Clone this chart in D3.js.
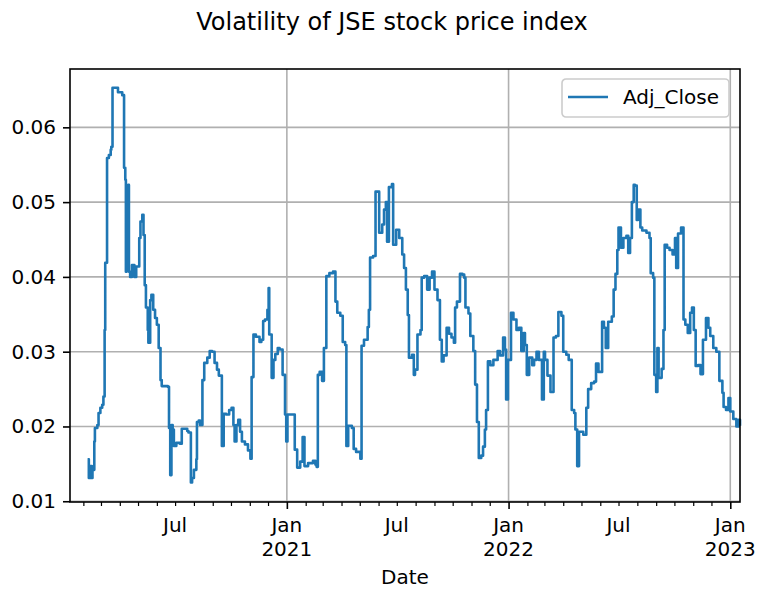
<!DOCTYPE html>
<html>
<head>
<meta charset="utf-8">
<script src="https://cdn.jsdelivr.net/npm/d3@7"></script>
<style>
  body { margin: 0; background: #fff; }
  svg text { font-family: "DejaVu Sans", sans-serif; fill: #000; }
</style>
</head>
<body>
<svg id="chart" width="758" height="590"></svg>
<script>
// rolling volatility
const dates = [
  '2020-02-08','2020-02-10','2020-02-12','2020-02-15','2020-02-16','2020-02-19','2020-02-20','2020-02-24','2020-02-26','2020-02-29',
  '2020-03-03','2020-03-05','2020-03-07','2020-03-08','2020-03-11','2020-03-14','2020-03-17','2020-03-18','2020-03-20','2020-03-26',
  '2020-03-29','2020-04-05','2020-04-07','2020-04-08','2020-04-10','2020-04-11','2020-04-12','2020-04-15','2020-04-16','2020-04-18',
  '2020-04-21','2020-04-25','2020-04-28','2020-05-03','2020-05-05','2020-05-08','2020-05-10','2020-05-12','2020-05-14','2020-05-17',
  '2020-05-18','2020-05-21','2020-05-23','2020-05-26','2020-05-29','2020-06-01','2020-06-04','2020-06-07','2020-06-09','2020-06-19',
  '2020-06-21','2020-06-23','2020-06-25','2020-06-27','2020-06-29','2020-07-03','2020-07-09','2020-07-12','2020-07-21','2020-07-23',
  '2020-07-27','2020-07-29','2020-08-01','2020-08-05','2020-08-06','2020-08-09','2020-08-11','2020-08-15','2020-08-18','2020-08-23',
  '2020-08-27','2020-08-31','2020-09-04','2020-09-08','2020-09-11','2020-09-15','2020-09-16','2020-09-19','2020-09-23','2020-09-28',
  '2020-10-02','2020-10-05','2020-10-07','2020-10-10','2020-10-13','2020-10-16','2020-10-19','2020-10-24','2020-10-29','2020-11-02',
  '2020-11-04','2020-11-07','2020-11-11','2020-11-17','2020-11-20','2020-11-23','2020-11-26','2020-11-30','2020-12-02','2020-12-03',
  '2020-12-07','2020-12-10','2020-12-13','2020-12-17','2020-12-20','2020-12-25','2020-12-29','2020-12-31','2021-01-02','2021-01-11',
  '2021-01-14','2021-01-18','2021-01-23','2021-01-27','2021-01-30','2021-02-05','2021-02-13','2021-02-17','2021-02-19','2021-02-21',
  '2021-02-24','2021-02-28','2021-03-03','2021-03-07','2021-03-12','2021-03-18','2021-03-22','2021-03-25','2021-03-30','2021-04-03',
  '2021-04-07','2021-04-09','2021-04-12','2021-04-18','2021-04-21','2021-04-25','2021-05-02','2021-05-04','2021-05-08','2021-05-14',
  '2021-05-16','2021-05-18','2021-05-23','2021-05-27','2021-05-31','2021-06-02','2021-06-07','2021-06-10','2021-06-13','2021-06-15',
  '2021-06-18','2021-06-23','2021-06-25','2021-06-30','2021-07-05','2021-07-10','2021-07-13','2021-07-16','2021-07-19','2021-07-21',
  '2021-07-26','2021-07-29','2021-07-31','2021-08-04','2021-08-09','2021-08-11','2021-08-15','2021-08-20','2021-08-24','2021-08-28',
  '2021-09-01','2021-09-06','2021-09-10','2021-09-13','2021-09-16','2021-09-21','2021-09-25','2021-09-29','2021-10-03','2021-10-05',
  '2021-10-08','2021-10-13','2021-10-17','2021-10-20','2021-10-22','2021-10-27','2021-10-30','2021-11-04','2021-11-07','2021-11-10',
  '2021-11-13','2021-11-17','2021-11-20','2021-11-23','2021-11-25','2021-11-28','2021-12-02','2021-12-07','2021-12-11','2021-12-14',
  '2021-12-18','2021-12-23','2021-12-26','2021-12-28','2021-12-31','2022-01-05','2022-01-09','2022-01-14','2022-01-18','2022-01-22',
  '2022-01-26','2022-01-28','2022-01-31','2022-02-04','2022-02-09','2022-02-12','2022-02-16','2022-02-20','2022-02-25','2022-02-28',
  '2022-03-02','2022-03-06','2022-03-11','2022-03-16','2022-03-20','2022-03-24','2022-03-29','2022-04-01','2022-04-06','2022-04-10',
  '2022-04-15','2022-04-19','2022-04-21','2022-04-24','2022-04-27','2022-05-04','2022-05-09','2022-05-12','2022-05-17','2022-05-22',
  '2022-05-25','2022-05-29','2022-06-04','2022-06-07','2022-06-10','2022-06-14','2022-06-20','2022-06-23','2022-06-26','2022-06-29',
  '2022-07-01','2022-07-05','2022-07-09','2022-07-14','2022-07-17','2022-07-20','2022-07-23','2022-07-26','2022-07-28','2022-07-31',
  '2022-08-02','2022-08-06','2022-08-09','2022-08-16','2022-08-21','2022-08-23','2022-08-27','2022-08-29','2022-09-01','2022-09-03',
  '2022-09-05','2022-09-10','2022-09-13','2022-09-15','2022-09-19','2022-09-23','2022-09-28','2022-10-02','2022-10-04','2022-10-07',
  '2022-10-12','2022-10-16','2022-10-19','2022-10-23','2022-10-27','2022-10-30','2022-11-02','2022-11-05','2022-11-09','2022-11-13',
  '2022-11-17','2022-11-22','2022-11-26','2022-11-29','2022-12-04','2022-12-09','2022-12-14','2022-12-19','2022-12-21','2022-12-25',
  '2022-12-29','2023-01-01','2023-01-06','2023-01-11','2023-01-15','2023-01-17'
];
const adjClose = [
  0.0156,0.0131,0.0147,0.0131,0.0142,0.0180,0.0198,0.0202,0.0218,0.0225,
  0.0229,0.0240,0.0329,0.0419,0.0559,0.0563,0.0570,0.0574,0.0653,0.0653,
  0.0647,0.0643,0.0643,0.0546,0.0530,0.0407,0.0450,0.0523,0.0407,0.0400,
  0.0416,0.0400,0.0414,0.0452,0.0474,0.0483,0.0456,0.0389,0.0359,0.0329,
  0.0312,0.0369,0.0376,0.0356,0.0345,0.0336,0.0305,0.0262,0.0254,0.0253,
  0.0198,0.0135,0.0202,0.0196,0.0174,0.0178,0.0177,0.0197,0.0194,0.0192,
  0.0125,0.0131,0.0142,0.0156,0.0206,0.0208,0.0202,0.0262,0.0285,0.0292,
  0.0301,0.0300,0.0285,0.0276,0.0268,0.0268,0.0174,0.0217,0.0216,0.0222,
  0.0225,0.0202,0.0180,0.0202,0.0209,0.0193,0.0180,0.0176,0.0168,0.0157,
  0.0266,0.0323,0.0320,0.0313,0.0316,0.0341,0.0343,0.0356,0.0385,0.0323,
  0.0265,0.0289,0.0297,0.0305,0.0303,0.0269,0.0216,0.0180,0.0216,0.0216,
  0.0169,0.0145,0.0153,0.0186,0.0147,0.0151,0.0154,0.0149,0.0146,0.0269,
  0.0273,0.0261,0.0305,0.0401,0.0405,0.0407,0.0367,0.0352,0.0348,0.0313,
  0.0309,0.0174,0.0201,0.0198,0.0170,0.0166,0.0157,0.0308,0.0316,0.0333,
  0.0356,0.0426,0.0428,0.0514,0.0514,0.0459,0.0470,0.0490,0.0500,0.0447,
  0.0520,0.0524,0.0443,0.0463,0.0452,0.0430,0.0412,0.0383,0.0349,0.0292,
  0.0296,0.0269,0.0276,0.0323,0.0329,0.0399,0.0401,0.0383,0.0399,0.0407,
  0.0383,0.0369,0.0316,0.0287,0.0295,0.0332,0.0324,0.0319,0.0312,0.0359,
  0.0367,0.0404,0.0403,0.0399,0.0359,0.0351,0.0321,0.0301,0.0256,0.0206,
  0.0158,0.0161,0.0173,0.0196,0.0222,0.0287,0.0282,0.0289,0.0289,0.0301,
  0.0295,0.0319,0.0303,0.0236,0.0289,0.0352,0.0343,0.0329,0.0332,0.0301,
  0.0325,0.0309,0.0269,0.0292,0.0282,0.0289,0.0300,0.0289,0.0236,0.0300,
  0.0289,0.0268,0.0246,0.0319,0.0321,0.0353,0.0348,0.0300,0.0296,0.0289,
  0.0222,0.0218,0.0196,0.0147,0.0193,0.0189,0.0225,0.0250,0.0258,0.0260,
  0.0284,0.0273,0.0340,0.0332,0.0305,0.0340,0.0347,0.0383,0.0404,0.0436,
  0.0466,0.0439,0.0452,0.0455,0.0432,0.0452,0.0500,0.0523,0.0522,0.0476,
  0.0490,0.0466,0.0462,0.0459,0.0452,0.0405,0.0399,0.0269,0.0246,0.0305,
  0.0265,0.0277,0.0329,0.0443,0.0439,0.0436,0.0430,0.0452,0.0412,0.0458,
  0.0466,0.0343,0.0336,0.0325,0.0352,0.0359,0.0329,0.0281,0.0282,0.0270,
  0.0316,0.0345,0.0332,0.0321,0.0305,0.0300,0.0261,0.0245,0.0226,0.0222,
  0.0238,0.0220,0.0210,0.0200,0.0209,0.0201
];

const yTicks = [0.01, 0.02, 0.03, 0.04, 0.05, 0.06];
const yearTicks = ['2021-01-01', '2022-01-01', '2023-01-01'];
const julTicks = ['2020-07-01', '2021-07-01', '2022-07-01'];
const xRange = ['2020-01-10', '2023-01-17'];
const yRange = [0.0099, 0.0678];

const parse = d3.timeParse('%Y-%m-%d');
const data = dates.map((d, i) => ({date: parse(d), value: adjClose[i]}));

const svg = d3.select('#chart');
const margin = {left: 70, right: 18, top: 69, bottom: 88};
const width = 758 - margin.left - margin.right;
const height = 590 - margin.top - margin.bottom;

svg.append('rect').attr('width', 758).attr('height', 590).attr('fill', '#fff');

const g = svg.append('g').attr('transform', 'translate(' + margin.left + ',' + margin.top + ')');

const x = d3.scaleTime().domain(xRange.map(parse)).range([0, width]);
const y = d3.scaleLinear().domain(yRange).range([height, 0]);

// grid (major ticks only)
g.append('g')
    .selectAll('line')
    .data(yTicks)
    .enter()
    .append('line')
    .attr('x1', 0)
    .attr('x2', width)
    .attr('y1', d => y(d))
    .attr('y2', d => y(d))
    .style('stroke', '#b0b0b0')
    .style('stroke-width', '1.6px');

g.append('g')
    .selectAll('line')
    .data(yearTicks.map(parse))
    .enter()
    .append('line')
    .attr('x1', d => x(d))
    .attr('x2', d => x(d))
    .attr('y1', 0)
    .attr('y2', height)
    .style('stroke', '#b0b0b0')
    .style('stroke-width', '1.6px');

// the series, drawn as steps like the daily data
const line = d3.line()
    .curve(d3.curveStepAfter)
    .x(d => x(d.date))
    .y(d => y(d.value));

g.append('path')
    .datum(data)
    .attr('d', line)
    .attr('fill', 'none')
    .style('stroke', '#1f77b4')
    .style('stroke-width', '2.6px')
    .style('stroke-linejoin', 'round');

// y axis
const yAxis = g.append('g')
    .call(d3.axisLeft(y).tickValues(yTicks).tickSize(7).tickPadding(7).tickFormat(d3.format('.2f')));
yAxis.select('.domain').remove();
yAxis.selectAll('line').style('stroke-width', '1.6px');
yAxis.selectAll('text').style('font-size', '20px').style('font-family', '"DejaVu Sans", sans-serif');

// x axis: monthly minor ticks, yearly major ticks
const minorDates = d3.timeMonth.range(x.domain()[0], x.domain()[1])
    .filter(d => d.getMonth() !== 0);
const xMinor = g.append('g')
    .attr('transform', 'translate(0,' + height + ')')
    .call(d3.axisBottom(x).tickValues(minorDates).tickSize(4).tickFormat(''));
xMinor.select('.domain').remove();
xMinor.selectAll('line').style('stroke-width', '1.2px');

const xMajor = g.append('g')
    .attr('transform', 'translate(0,' + height + ')')
    .call(d3.axisBottom(x).tickValues(yearTicks.map(parse)).tickSize(7).tickFormat(''));
xMajor.select('.domain').remove();
xMajor.selectAll('line').style('stroke-width', '1.6px');

// tick labels
const labels = g.append('g').attr('transform', 'translate(0,' + height + ')');
labels.selectAll('.jul')
    .data(julTicks.map(parse))
    .enter()
    .append('text')
    .attr('x', d => x(d))
    .attr('y', 30)
    .attr('text-anchor', 'middle')
    .style('font-size', '20px')
    .text('Jul');

const yearLabels = labels.selectAll('.yr')
    .data(yearTicks.map(parse))
    .enter()
    .append('text')
    .attr('text-anchor', 'middle')
    .style('font-size', '20px');
yearLabels.append('tspan')
    .attr('x', d => x(d))
    .attr('y', 30)
    .text('Jan');
yearLabels.append('tspan')
    .attr('x', d => x(d))
    .attr('y', 54)
    .text(d => d.getFullYear());

// spines
g.append('rect')
    .attr('width', width)
    .attr('height', height)
    .attr('fill', 'none')
    .style('stroke', '#000')
    .style('stroke-width', '1.6px');

// axis label and title
svg.append('text')
    .attr('x', margin.left + width / 2)
    .attr('y', 584)
    .attr('text-anchor', 'middle')
    .style('font-size', '20px')
    .text('Date');

svg.append('text')
    .attr('x', 392)
    .attr('y', 30)
    .attr('text-anchor', 'middle')
    .style('font-size', '24px')
    .text('Volatility of JSE stock price index');

// legend
const legend = svg.append('g').attr('transform', 'translate(562,79)');
legend.append('rect')
    .attr('width', 167)
    .attr('height', 38)
    .attr('rx', 4)
    .attr('fill', '#fff')
    .attr('fill-opacity', 0.8)
    .style('stroke', '#cccccc')
    .style('stroke-width', '1.6px');
legend.append('line')
    .attr('x1', 6)
    .attr('x2', 46)
    .attr('y1', 18)
    .attr('y2', 18)
    .style('stroke', '#1f77b4')
    .style('stroke-width', '2.6px');
legend.append('text')
    .attr('x', 61)
    .attr('y', 25)
    .style('font-size', '20px')
    .text('Adj_Close');
</script>
</body>
</html>
